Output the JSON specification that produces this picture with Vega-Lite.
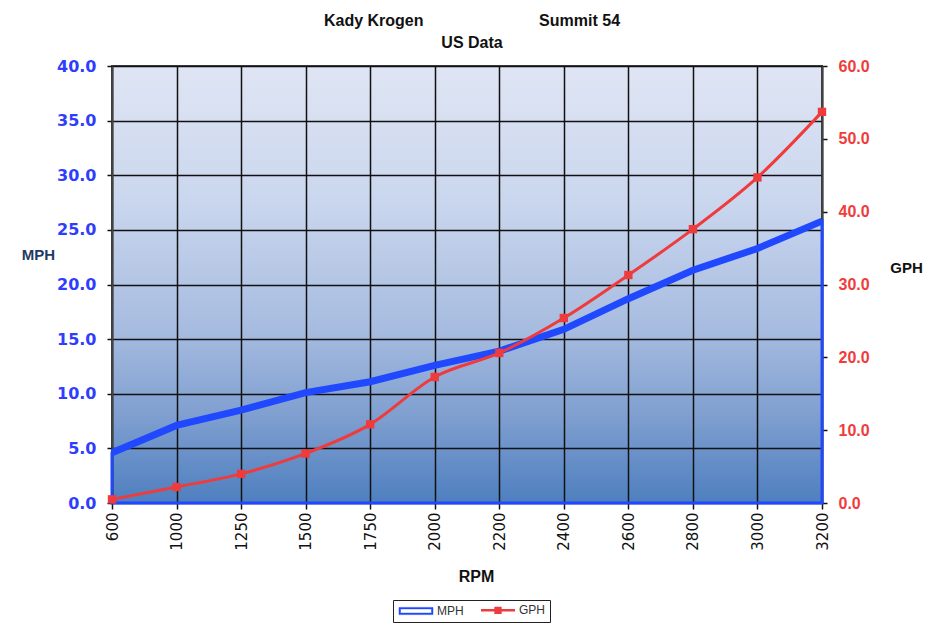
{
  "$schema": "https://vega.github.io/schema/vega-lite/v6.json",
  "width": 710,
  "height": 437,
  "autosize": "none",
  "padding": {"left": 112, "top": 66, "right": 123, "bottom": 127},
  "background": "#ffffff",
  "title": {
    "text": ["Kady Krogen\u00a0\u00a0\u00a0\u00a0\u00a0\u00a0\u00a0\u00a0\u00a0\u00a0\u00a0\u00a0\u00a0\u00a0\u00a0\u00a0\u00a0\u00a0\u00a0\u00a0\u00a0\u00a0\u00a0\u00a0\u00a0\u00a0Summit 54", "US Data"],
    "anchor": "middle",
    "font": "Liberation Sans",
    "fontSize": 16,
    "fontWeight": "bold",
    "color": "#111111",
    "baseline": "alphabetic",
    "lineHeight": 22,
    "offset": 17.7,
    "dx": 5,
    "dy": 24
  },
  "data": {
    "values": [
      {"rpm": 600, "mph": 4.6, "gph": 0.5},
      {"rpm": 1000, "mph": 7.1, "gph": 2.2},
      {"rpm": 1250, "mph": 8.5, "gph": 4.0},
      {"rpm": 1500, "mph": 10.1, "gph": 6.8},
      {"rpm": 1750, "mph": 11.1, "gph": 10.8},
      {"rpm": 2000, "mph": 12.6, "gph": 17.3},
      {"rpm": 2200, "mph": 13.9, "gph": 20.6},
      {"rpm": 2400, "mph": 15.9, "gph": 25.4},
      {"rpm": 2600, "mph": 18.7, "gph": 31.3},
      {"rpm": 2800, "mph": 21.3, "gph": 37.6},
      {"rpm": 3000, "mph": 23.3, "gph": 44.7},
      {"rpm": 3200, "mph": 25.8, "gph": 53.7}
    ]
  },
  "encoding": {
    "x": {
      "field": "rpm",
      "type": "ordinal",
      "scale": {"type": "point", "padding": 0},
      "axis": {
        "title": "RPM",
        "labelAngle": -90,
        "labelFont": "DejaVu Sans",
        "labelFontSize": 15,
        "labelColor": "#111111",
        "tickSize": 6,
        "tickColor": "#111111",
        "tickWidth": 1.5,
        "labelPadding": 3,
        "grid": true,
        "gridColor": "#111111",
        "gridWidth": 1.5,
        "gridOpacity": 1,
        "domain": false,
        "titleFont": "Liberation Sans",
        "titleFontWeight": "bold",
        "titleFontSize": 16,
        "titleColor": "#111111",
        "titleY": 73,
        "titleX": 364,
        "titleBaseline": "middle"
      }
    }
  },
  "layer": [
    {
      "encoding": {
        "y": {
          "field": "mph",
          "type": "quantitative",
          "scale": {"domain": [0, 40], "nice": false},
          "axis": {
            "orient": "left",
            "title": "MPH",
            "values": [0, 5, 10, 15, 20, 25, 30, 35, 40],
            "format": ".1f",
            "labelFont": "DejaVu Sans",
            "labelFontWeight": "bold",
            "labelFontSize": 16,
            "labelColor": "#2f3dff",
            "tickSize": 5,
            "tickColor": "#111111",
            "tickWidth": 1.5,
            "labelPadding": 11,
            "grid": true,
            "gridColor": "#111111",
            "gridWidth": 1.5,
            "gridOpacity": 1,
            "domainColor": "#444444",
            "domainWidth": 2,
            "titleAngle": 0,
            "titleX": -74,
            "titleY": 188,
            "titleAlign": "center",
            "titleBaseline": "middle",
            "titleFont": "Liberation Sans",
            "titleFontWeight": "bold",
            "titleFontSize": 15,
            "titleColor": "#1f3a66"
          }
        }
      },
      "layer": [
        {
          "mark": {"type": "area", "fill": "transparent", "stroke": "#1f48ff", "strokeWidth": 3}
        },
        {
          "mark": {"type": "line", "strokeWidth": 7},
          "encoding": {
            "color": {
              "datum": "MPH",
              "type": "nominal",
              "scale": {"domain": ["MPH", "GPH"], "range": ["#1f48ff", "#ef3b3b"]},
              "legend": {
                "title": null,
                "orient": "none",
                "legendX": 281,
                "legendY": 534,
                "direction": "horizontal",
                "fillColor": "#ffffff",
                "strokeColor": "#222222",
                "padding": 4,
                "columnPadding": 12,
                "symbolSize": 64,
                "symbolOffset": 13,
                "labelFont": "Liberation Sans",
                "labelFontSize": 12,
                "labelColor": "#333333",
                "labelOffset": 15,
                "encode": {
                  "symbols": {
                    "update": {
                      "shape": {"signal": "datum.value === 'MPH' ? 'M-4.25,-0.9H4.25V0.9H-4.25ZM-3.875,-0.525V0.525H3.875V-0.525Z' : 'M-4.25,0H4.25M-0.6,-0.6H0.6V0.6H-0.6Z'"},
                      "fill": {"signal": "datum.value === 'MPH' ? '#1f48ff' : '#ef3b3b'"},
                      "stroke": {"signal": "datum.value === 'MPH' ? '#1f48ff' : '#ef3b3b'"},
                      "strokeWidth": {"signal": "datum.value === 'MPH' ? 0.5 : 2.5"},
                      "opacity": {"value": 1}
                    }
                  }
                }
              }
            }
          }
        }
      ]
    },
    {
      "encoding": {
        "y": {
          "field": "gph",
          "type": "quantitative",
          "scale": {"domain": [0, 60], "nice": false},
          "axis": {
            "orient": "right",
            "title": "GPH",
            "values": [0, 10, 20, 30, 40, 50, 60],
            "format": ".1f",
            "labelFont": "Liberation Sans",
            "labelFontWeight": "bold",
            "labelFontSize": 16,
            "labelColor": "#f03c3c",
            "tickSize": 5,
            "tickColor": "#111111",
            "tickWidth": 1.5,
            "labelPadding": 11,
            "grid": false,
            "domainColor": "#444444",
            "domainWidth": 2,
            "titleAngle": 0,
            "titleX": 84,
            "titleY": 201,
            "titleAlign": "center",
            "titleBaseline": "middle",
            "titleFont": "Liberation Sans",
            "titleFontWeight": "bold",
            "titleFontSize": 15,
            "titleColor": "#111111"
          }
        },
        "color": {"datum": "GPH", "type": "nominal"}
      },
      "layer": [
        {"mark": {"type": "line", "strokeWidth": 3, "interpolate": "monotone"}},
        {"mark": {"type": "point", "shape": "square", "filled": true, "size": 70, "opacity": 1}}
      ]
    }
  ],
  "resolve": {"scale": {"y": "independent"}},
  "config": {
    "view": {
      "stroke": "#444444",
      "strokeWidth": 2,
      "fill": {
        "gradient": "linear",
        "x1": 0, "y1": 0, "x2": 0, "y2": 1,
        "stops": [
          {"offset": 0, "color": "#dfe5f4"},
          {"offset": 0.3, "color": "#cbd7ee"},
          {"offset": 0.6, "color": "#a7bce0"},
          {"offset": 0.8, "color": "#7f9fd0"},
          {"offset": 1, "color": "#4e7fbf"}
        ]
      }
    }
  }
}
